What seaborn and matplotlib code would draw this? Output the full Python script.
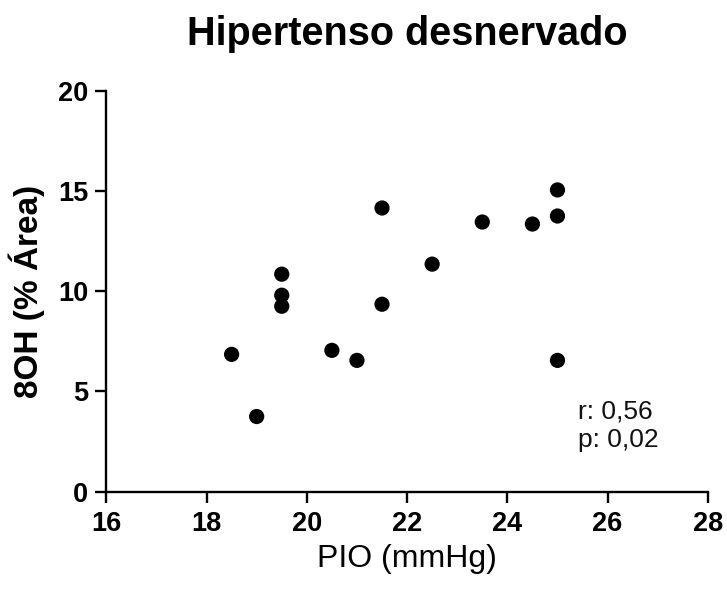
import matplotlib
matplotlib.use("Agg")
import matplotlib.pyplot as plt
import seaborn as sns
import pandas as pd

pio = [18.5, 19.0, 19.5, 19.5, 19.5, 20.5, 21.0, 21.5, 21.5, 22.5, 23.5, 24.5, 25.0, 25.0, 25.0]
oh8 = [6.85, 3.75, 10.85, 9.8, 9.25, 7.05, 6.55, 14.15, 9.35, 11.35, 13.45, 13.35, 15.05, 13.75, 6.55]
x_ticks = [16, 18, 20, 22, 24, 26, 28]
y_ticks = [0, 5, 10, 15, 20]
stats_text = ["r: 0,56", "p: 0,02"]

df = pd.DataFrame({"PIO": pio, "OH8": oh8})

sns.set_style("ticks")
plt.rcParams["font.family"] = ["Liberation Sans", "DejaVu Sans"]
plt.rcParams["text.color"] = "black"
plt.rcParams["axes.labelcolor"] = "black"
plt.rcParams["xtick.color"] = "black"
plt.rcParams["ytick.color"] = "black"

fig = plt.figure(figsize=(7.27, 5.92), dpi=100)
ax = fig.add_axes([0.1462, 0.1694, 0.8275, 0.6774])

sns.scatterplot(data=df, x="PIO", y="OH8", ax=ax, color="black", s=120,
                edgecolor="none", clip_on=False, zorder=3)

ax.set_xlim(16, 28)
ax.set_ylim(0, 20)
ax.set_xticks(x_ticks)
ax.set_yticks(y_ticks)
ax.set_xticklabels([str(t) for t in x_ticks], fontsize=19.5, fontweight="bold")
ax.set_yticklabels([str(t) for t in y_ticks], fontsize=19.5, fontweight="bold")

for s in ["top", "right"]:
    ax.spines[s].set_visible(False)
for s in ["left", "bottom"]:
    ax.spines[s].set_linewidth(1.7)
    ax.spines[s].set_color("black")
ax.tick_params(axis="both", direction="out", length=8, width=1.7, color="black", labelcolor="black")
ax.tick_params(axis="x", pad=6)
ax.tick_params(axis="y", pad=5)

ax.set_xlabel("PIO (mmHg)", fontsize=23, labelpad=5, color="black")
ax.set_ylabel("8OH (% Área)", fontsize=24, fontweight="bold", labelpad=9, color="black")
ax.set_title("Hipertenso desnervado", fontsize=28.5, fontweight="bold", pad=33, color="black")

ax.text(25.41, 4.0, stats_text[0], fontsize=19, va="center", ha="left", color="#111111")
ax.text(25.41, 2.58, stats_text[1], fontsize=19, va="center", ha="left", color="#111111")

fig.savefig("out.png", dpi=100)
